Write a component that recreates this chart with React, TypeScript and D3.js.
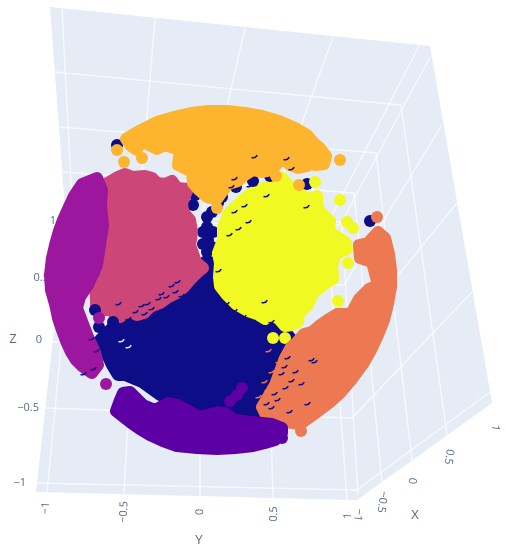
import React from 'react'
import * as d3 from 'd3'

type Pt = [number, number]

// tick values shared by the three scene axes
const axisTicks = [-1, -0.5, 0, 0.5, 1]
const xGridTicks = [-1, -0.5, 0, 0.5]

// clusters, as [y, z] in the projected plane of the view.
// "Body" lists go round the outer dots of a cluster, "Dots" are loose markers.
const navyBody: Pt[] = [[-0.5, 0.05], [-0.44, -0.075], [-0.41, -0.125], [-0.375, -0.125], [-0.29, -0.16], [-0.2, -0.225], [0, -0.3], [0.2, -0.34], [0.31, -0.325], [0.425, -0.15], [0.46, 0.05], [0.375, 0.15], [0.2, 0.275], [0.06, 0.4], [0.025, 0.44], [-0.05, 0.35], [-0.25, 0.25], [-0.4, 0.15]]
const navyBackDots: Pt[] = [[-0.415, 1.025], [-0.035, 0.95], [0, 0.89], [0.01, 0.8], [0.09, 0.735], [-0.035, 0.725], [0.035, 0.665], [0.035, 0.615], [0.04, 0.55], [0.035, 0.49], [0.05, 0.44], [0.06, 0.69], [0.065, 0.59], [0.06, 0.515], [0.015, 0.59], [0.015, 0.53], [0.06, 0.8], [-0.025, 0.775]]
const navyFrontDots: Pt[] = [[-0.525, 0.2], [-0.435, 0.14], [-0.505, 0.115], [0.535, 0.83], [0.85, 0.645], [0.355, 0.085], [0.415, 0.035], [0.325, 0.06], [0.35, 0.87], [0.265, 0.845], [0.18, 0.815], [0.11, 0.765], [0.05, 0.8]]

const roseBody: Pt[] = [[-0.47, 0.83], [-0.41, 0.865], [-0.375, 0.88], [-0.335, 0.865], [-0.275, 0.87], [-0.24, 0.86], [-0.215, 0.835], [-0.175, 0.83], [-0.14, 0.845], [-0.115, 0.81], [-0.06, 0.805], [-0.09, 0.735], [-0.085, 0.69], [-0.05, 0.65], [-0.04, 0.59], [-0.05, 0.525], [-0.02, 0.44], [0.015, 0.41], [-0.015, 0.385], [-0.05, 0.35], [-0.08, 0.315], [-0.115, 0.285], [-0.165, 0.26], [-0.2, 0.235], [-0.25, 0.215], [-0.28, 0.185], [-0.315, 0.175], [-0.35, 0.19], [-0.375, 0.185], [-0.4, 0.165], [-0.43, 0.185], [-0.465, 0.21], [-0.5, 0.19], [-0.52, 0.225], [-0.52, 0.26], [-0.525, 0.31], [-0.5, 0.4], [-0.5, 0.525], [-0.5, 0.65], [-0.49, 0.75]]

const purpleBody: Pt[] = [[-0.59, 0.83], [-0.515, 0.86], [-0.49, 0.8], [-0.495, 0.725], [-0.485, 0.625], [-0.5, 0.525], [-0.515, 0.425], [-0.56, 0.325], [-0.6, 0.265], [-0.615, 0.21], [-0.585, 0.13], [-0.56, 0.065], [-0.525, -0.01], [-0.51, -0.075], [-0.54, -0.115], [-0.59, -0.08], [-0.62, -0.05], [-0.645, -0.01], [-0.67, 0.045], [-0.69, 0.1], [-0.71, 0.16], [-0.725, 0.23], [-0.745, 0.3], [-0.75, 0.375], [-0.74, 0.46], [-0.725, 0.525], [-0.705, 0.595], [-0.685, 0.65], [-0.66, 0.705], [-0.63, 0.77]]
const purpleDots: Pt[] = [[-0.47, -0.17], [-0.53, 0.385], [-0.505, 0.16]]

const yellowBody: Pt[] = [[0.41, 0.86], [0.45, 0.815], [0.5, 0.785], [0.545, 0.75], [0.585, 0.77], [0.59, 0.71], [0.61, 0.68], [0.65, 0.645], [0.645, 0.595], [0.73, 0.535], [0.735, 0.505], [0.68, 0.48], [0.66, 0.425], [0.665, 0.355], [0.63, 0.335], [0.6, 0.31], [0.57, 0.29], [0.55, 0.25], [0.535, 0.22], [0.495, 0.185], [0.49, 0.14], [0.46, 0.125], [0.425, 0.12], [0.395, 0.155], [0.36, 0.175], [0.325, 0.155], [0.285, 0.18], [0.24, 0.195], [0.18, 0.23], [0.135, 0.275], [0.1, 0.32], [0.095, 0.365], [0.1, 0.435], [0.09, 0.485], [0.115, 0.55], [0.115, 0.615], [0.14, 0.675], [0.17, 0.71], [0.215, 0.75], [0.26, 0.785], [0.32, 0.81], [0.38, 0.835]]
const yellowDots: Pt[] = [[0.575, 0.84], [0.7, 0.75], [0.735, 0.64], [0.765, 0.61], [0.74, 0.435], [0.69, 0.245], [0.365, 0.06], [0.425, 0.06]]

const orangeBody: Pt[] = [[0.89, 0.59], [0.925, 0.56], [0.945, 0.48], [0.955, 0.4], [0.955, 0.315], [0.94, 0.23], [0.92, 0.15], [0.89, 0.075], [0.855, 0], [0.815, -0.07], [0.76, -0.145], [0.7, -0.215], [0.645, -0.265], [0.585, -0.31], [0.5, -0.37], [0.425, -0.36], [0.335, -0.335], [0.31, -0.285], [0.375, -0.175], [0.425, -0.04], [0.455, 0.015], [0.485, 0.04], [0.52, 0.08], [0.56, 0.09], [0.595, 0.12], [0.645, 0.155], [0.685, 0.18], [0.735, 0.18], [0.76, 0.19], [0.795, 0.255], [0.845, 0.305], [0.89, 0.325], [0.86, 0.44], [0.8, 0.46], [0.795, 0.525], [0.84, 0.535]]
const orangeDots: Pt[] = [[0.885, 0.665], [0.505, -0.405]]

const amberBody: Pt[] = [[-0.37, 1.055], [-0.295, 1.1], [-0.215, 1.14], [-0.13, 1.165], [-0.045, 1.185], [0.045, 1.195], [0.135, 1.195], [0.225, 1.185], [0.31, 1.17], [0.395, 1.145], [0.475, 1.11], [0.535, 1.075], [0.57, 1.035], [0.6, 1.01], [0.63, 0.97], [0.62, 0.93], [0.575, 0.925], [0.55, 0.95], [0.535, 0.92], [0.49, 0.91], [0.45, 0.925], [0.415, 0.96], [0.385, 0.93], [0.36, 0.9], [0.315, 0.89], [0.265, 0.9], [0.225, 0.875], [0.19, 0.845], [0.14, 0.83], [0.11, 0.79], [0.085, 0.755], [0.035, 0.765], [-0.005, 0.8], [-0.035, 0.835], [-0.04, 0.89], [-0.11, 0.925], [-0.1, 1], [-0.175, 1.025], [-0.215, 1.005], [-0.265, 1.03], [-0.3, 1.04], [-0.315, 1], [-0.345, 1.02]]
const amberDots: Pt[] = [[-0.415, 1], [-0.38, 0.94], [-0.29, 0.96], [0.7, 0.95], [0.495, 0.825], [0.38, 0.87], [0.085, 0.71]]

const violetBody: Pt[] = [[-0.42, -0.305], [-0.35, -0.36], [-0.3, -0.395], [-0.25, -0.425], [-0.185, -0.455], [-0.115, -0.48], [-0.015, -0.49], [0.085, -0.495], [0.175, -0.49], [0.265, -0.48], [0.325, -0.465], [0.375, -0.45], [0.41, -0.415], [0.41, -0.39], [0.36, -0.37], [0.26, -0.36], [0.175, -0.35], [0.125, -0.315], [0.09, -0.31], [0, -0.335], [-0.11, -0.275], [-0.16, -0.265], [-0.225, -0.3], [-0.285, -0.275], [-0.35, -0.21], [-0.385, -0.215], [-0.4, -0.25]]
const violetDots: Pt[] = [[0.21, -0.19], [0.185, -0.225], [0.15, -0.255], [0.41, -0.44]]

// small slivers of a hidden marker that show between the dots on top of it
const navySlivers: Pt[] = [[0.215, 0.74], [0.165, 0.71], [0.235, 0.66], [0.185, 0.625], [0.14, 0.595], [0.325, 0.79], [0.525, 0.735], [0.265, 0.985], [0.425, 0.975], [0.45, 0.925], [0.165, 0.875], [0.15, 0.835], [0.24, 0.84], [0.085, 0.415], [0.125, 0.25], [0.165, 0.215], [0.21, 0.185], [0.315, 0.26], [0.35, 0.16], [-0.15, 0.34], [-0.215, 0.275], [-0.25, 0.225], [-0.285, 0.2], [-0.415, 0.25], [-0.1, 0.29], [-0.175, 0.285], [-0.365, 0.175], [-0.035, 0.315], [-0.06, 0.275], [0.415, -0.065], [0.565, -0.04], [0.45, -0.135], [0.365, -0.2], [0.325, -0.25], [0.44, -0.29], [-0.55, 0.075], [-0.525, 0.015], [-0.54, -0.075], [-0.59, -0.1], [-0.13, 0.31], [-0.2, 0.3], [-0.3, 0.24], [-0.33, 0.21], [-0.27, 0.25], [-0.12, 0.36], [0.4, -0.1], [0.43, -0.02], [0.47, -0.09], [0.42, -0.17], [0.38, -0.23], [0.35, -0.27], [0.5, -0.15], [0.55, -0.03], [0.53, -0.25]]
const orangeSlivers: Pt[] = [[0.335, 0.015], [0.385, -0.04], [0.315, -0.14], [0.285, -0.215], [0.35, -0.09], [0.37, -0.12], [0.33, -0.18], [0.4, -0.02]]
const gapSlivers: Pt[] = [[-0.4, 0.065], [-0.365, 0.035]]

const BG = '#e5ecf6'
const TICK = '#5b6b87'
const NAVY = '#0d0887'
const VIOLET = '#5c01a6'
const PURPLE = '#9c179e'
const ROSE = '#cc4778'
const ORANGE = '#ed7953'
const AMBER = '#fdb42f'
const YELLOW = '#f0f921'
const R = 6

// projected plane of the view -> page
const sx = d3.scaleLinear().domain([-1, 1]).range([0, 400])
const sy = d3.scaleLinear().domain([-1, 1]).range([550, 150])

const bodyLine = d3.line<Pt>().x(d => sx(d[0])).y(d => sy(d[1])).curve(d3.curveLinearClosed)
const sliver = d3.arc()({ innerRadius: R - 2, outerRadius: R - 0.5, startAngle: Math.PI * 0.65, endAngle: Math.PI * 1.1 } as any) as string

// an edge of the scene box, walked through by tick value
const edge = (ticks: number[], pts: Pt[]) => {
  const ex = d3.scaleLinear().domain(ticks).range(pts.map(p => p[0]))
  const ey = d3.scaleLinear().domain(ticks).range(pts.map(p => p[1]))
  return (t: number): Pt => [ex(t), ey(t)]
}

const boxOutline: Pt[] = [[50, 7], [430, 46], [492, 403], [357, 500], [36, 492], [66, 222]]

const zWallLeft = edge(axisTicks, [[37, 483], [45, 408], [52, 342], [59, 280], [66, 222]])
const zWallCorner = edge(axisTicks, [[357, 490], [352, 418], [348, 337], [344, 285], [340, 225]])
const zWallRight = edge(axisTicks, [[490, 392], [472, 292], [457, 203], [442, 125], [430, 57]])

const yFloor = edge(axisTicks, [[47, 493], [124, 495], [200, 497], [273, 498], [347, 500]])
const yMid = edge(axisTicks, [[73, 222], [138, 223], [200, 224], [265, 225], [327, 225]])
const yTop = edge(axisTicks, [[62, 8], [155, 18], [245, 28], [333, 37], [419, 46]])

const xLeft = edge(xGridTicks, [[65, 215], [63, 172], [60, 127], [55, 72]])
const xCorner = edge(xGridTicks, [[342, 222], [354, 193], [376, 153], [401, 105]])
const xBottom = edge(xGridTicks, [[358, 495], [382, 482], [412, 460], [447, 435]])

const gridLines: Pt[][] = [
  ...axisTicks.map(t => [zWallLeft(t), zWallCorner(t), zWallRight(t)]),
  ...axisTicks.map(t => [yFloor(t), yMid(t), yTop(t)]),
  ...xGridTicks.map(t => [xLeft(t), xCorner(t), xBottom(t)]),
]

const zLabel = edge(axisTicks, [[26, 482], [39, 407], [42, 339], [49, 277], [56, 220]])
const yLabel = edge(axisTicks, [[45, 508], [123, 512], [199, 512], [273, 514], [347, 516]])
const xLabel = edge(axisTicks, [[359, 515], [383, 502], [413, 481], [450, 457], [496, 428]])

const fmt = (t: number) => String(t).replace('-', '\u2212')

const Body = ({ pts, fill }: { pts: Pt[]; fill: string }) => (
  <path d={bodyLine(pts) as string} fill={fill} stroke={fill} strokeWidth={R * 2} strokeLinejoin="round" />
)

const Dots = ({ pts, fill }: { pts: Pt[]; fill: string }) => (
  <g fill={fill}>
    {pts.map((d, i) => <circle key={i} cx={sx(d[0])} cy={sy(d[1])} r={R} />)}
  </g>
)

const Slivers = ({ pts, fill }: { pts: Pt[]; fill: string }) => (
  <g fill={fill}>
    {pts.map((d, i) => <path key={i} d={sliver} transform={`translate(${sx(d[0])},${sy(d[1])})`} />)}
  </g>
)

export default function App() {
  const label = { fontFamily: '"Open Sans", sans-serif', fill: TICK }
  return (
    <svg width={506} height={550} style={{ position: 'absolute', left: 0, top: 0 }}>
      <defs>
        <filter id="soft" x="-5%" y="-5%" width="110%" height="110%">
          <feGaussianBlur stdDeviation="0.55" />
        </filter>
      </defs>
      <g filter="url(#soft)">
        <polygon points={boxOutline.join(' ')} fill={BG} />
        {gridLines.map((l, i) => (
          <polyline key={i} points={l.join(' ')} fill="none" stroke="#fff" strokeWidth={1.4} strokeOpacity={0.7} />
        ))}
        <g {...label} fontSize={11}>
          {axisTicks.map(t => {
            const [x, y] = zLabel(t)
            return <text key={t} x={x} y={y + 4} textAnchor="end">{fmt(t)}</text>
          })}
          {axisTicks.map(t => {
            const [x, y] = yLabel(t)
            return <text key={t} transform={`translate(${x},${y}) rotate(-88)`} y={4} textAnchor="middle">{fmt(t)}</text>
          })}
          {axisTicks.map(t => {
            const [x, y] = xLabel(t)
            return <text key={t} transform={`translate(${x},${y}) rotate(98)`} y={4} textAnchor="middle">{fmt(t)}</text>
          })}
        </g>
        <g {...label} fontSize={13} textAnchor="middle">
          <text x={13} y={343}>Z</text>
          <text x={199} y={544}>Y</text>
          <text x={415} y={519}>X</text>
        </g>

        {/* drawn back to front, the way the dots overlap in the picture */}
        <Body pts={navyBody} fill={NAVY} />
        <Dots pts={navyBackDots} fill={NAVY} />
        <Body pts={roseBody} fill={ROSE} />
        <Body pts={purpleBody} fill={PURPLE} />
        <Body pts={yellowBody} fill={YELLOW} />
        <Dots pts={navyFrontDots} fill={NAVY} />
        <Dots pts={purpleDots} fill={PURPLE} />
        <Dots pts={yellowDots} fill={YELLOW} />
        <Body pts={orangeBody} fill={ORANGE} />
        <Dots pts={orangeDots} fill={ORANGE} />
        <Body pts={amberBody} fill={AMBER} />
        <Dots pts={amberDots} fill={AMBER} />
        <Body pts={violetBody} fill={VIOLET} />
        <Dots pts={violetDots} fill={VIOLET} />
        <Slivers pts={navySlivers} fill={NAVY} />
        <Slivers pts={orangeSlivers} fill={ORANGE} />
        <Slivers pts={gapSlivers} fill={BG} />
      </g>
    </svg>
  )
}
